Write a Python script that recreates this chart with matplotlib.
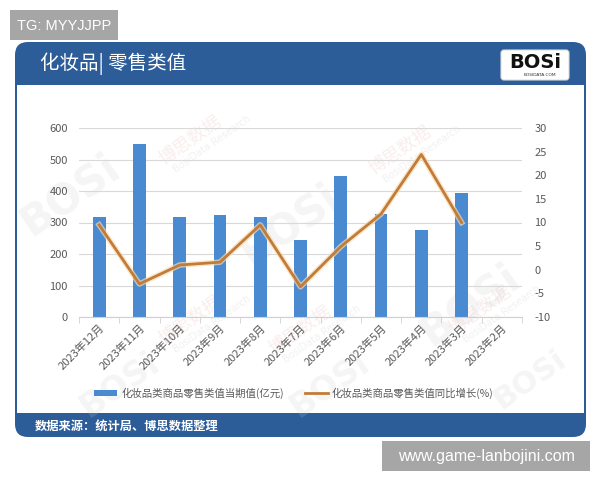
import matplotlib
matplotlib.use("Agg")
import matplotlib.pyplot as plt
import numpy as np
from matplotlib.patches import FancyBboxPatch, Rectangle, Patch
from matplotlib.lines import Line2D
import matplotlib.patheffects as pe

plt.rcParams['font.family'] = ['Noto Sans CJK SC', 'DejaVu Sans']
plt.rcParams['axes.unicode_minus'] = False

categories = ["2023年12月", "2023年11月", "2023年10月", "2023年9月", "2023年8月", "2023年7月",
              "2023年6月", "2023年5月", "2023年4月", "2023年3月", "2023年2月"]
retail_value = [318, 548, 316, 323, 318, 245, 448, 327, 275, 393, np.nan]
yoy_growth = [9.5, -3.0, 1.0, 1.6, 9.5, -3.6, 4.9, 11.8, 24.4, 10.0, np.nan]
left_ticks = [0, 100, 200, 300, 400, 500, 600]
right_ticks = [-10, -5, 0, 5, 10, 15, 20, 25, 30]
bar_label = "化妆品类商品零售类值当期值(亿元)"
line_label = "化妆品类商品零售类值同比增长(%)"
title = "化妆品| 零售类值"
source = "数据来源：统计局、博思数据整理"

W, H = 600, 480
fig = plt.figure(figsize=(6, 4.8), dpi=100)
fig.patch.set_facecolor("white")

# background canvas in pixel coords
bg = fig.add_axes([0, 0, 1, 1], zorder=0)
bg.set_xlim(0, W)
bg.set_ylim(H, 0)
bg.axis("off")

blue = "#2c5d98"
card = FancyBboxPatch((15, 42), 571, 395, boxstyle="round,pad=0,rounding_size=13",
                      facecolor=blue, edgecolor="none")
bg.add_patch(card)
content = Rectangle((17, 85), 567, 328, facecolor="white", edgecolor="none")
bg.add_patch(content)

# faint watermarks
for (x, y, fs) in [(70, 195, 30), (290, 225, 30), (470, 305, 30), (120, 385, 24),
                   (330, 385, 24), (530, 380, 22)]:
    bg.text(x, y, "BOSi", color="#c8c8c8", alpha=0.18, fontsize=fs, fontweight="heavy",
            rotation=35, ha="center", va="center", family="DejaVu Sans")
for (x, y) in [(190, 140), (400, 150), (300, 330), (480, 310), (190, 320)]:
    bg.text(x, y, "博思数据", color="#e8a8a8", alpha=0.2, fontsize=13, rotation=35,
            ha="center", va="center")
    bg.text(x + 22, y + 4, "BosiData Research", color="#c8c8c8", alpha=0.25, fontsize=7,
            rotation=35, ha="center", va="center", family="DejaVu Sans")

bg.text(40, 64, title, color="white", fontsize=14, va="center", ha="left")
bg.text(35, 426, source, color="white", fontsize=8.8, va="center", ha="left", fontweight="bold")

# logo
bg.add_patch(FancyBboxPatch((501, 50), 68, 30, boxstyle="round,pad=0,rounding_size=3",
                            facecolor="white", edgecolor="#dddddd", lw=0.8))
bg.text(535, 62, "BOSi", color="#111111", fontsize=14, fontweight="heavy", ha="center",
        va="center", family="DejaVu Sans")
bg.text(540, 75.5, "BOSIDATA.COM", color="#333333", fontsize=3.2, ha="center", va="center",
        family="DejaVu Sans")

# overlay boxes
bg.add_patch(Rectangle((10, 10), 108, 30, facecolor="#a6a6a6", edgecolor="none"))
bg.text(64, 25.5, "TG: MYYJJPP", color="white", fontsize=10.5, ha="center", va="center",
        family="Liberation Sans")
bg.add_patch(Rectangle((382, 441), 208, 30, facecolor="#a6a6a6", edgecolor="none"))
bg.text(486, 456.5, "www.game-lanbojini.com", color="white", fontsize=11.5, ha="center",
        va="center", family="Liberation Sans")

# main chart
ax = fig.add_axes([79 / W, 1 - 317 / H, (522 - 79) / W, (317 - 128) / H], zorder=2)
ax.patch.set_alpha(0)
x = np.arange(len(categories))
ax.bar(x, retail_value, width=0.32, color="#4a8ad0", zorder=2)
ax.set_xlim(-0.5, len(categories) - 0.5)
ax.set_ylim(0, 600)
ax.set_yticks(left_ticks)
ax.grid(axis="y", color="#d9d9d9", lw=0.8, zorder=0)
for s in ["top", "right", "left"]:
    ax.spines[s].set_visible(False)
ax.spines["bottom"].set_color("#d0d0d0")
ax.tick_params(axis="y", length=0, labelsize=8, labelcolor="#595959", pad=8)
ax.set_xticks(x)
ax.set_xticklabels(categories, rotation=45, ha="right", rotation_mode="anchor",
                   fontsize=8, color="#595959")
ax.tick_params(axis="x", length=0, pad=4)
ax.set_xticks(np.arange(-0.5, len(categories) + 0.5, 1), minor=True)
ax.tick_params(axis="x", which="minor", length=4, color="#d0d0d0")

ax2 = ax.twinx()
ax2.set_zorder(3)
ax2.plot(x, yoy_growth, color="#c27b38", lw=2.0, zorder=3,
         path_effects=[pe.Stroke(linewidth=4.0, foreground="#f7dcb0", alpha=0.7), pe.Normal()])
ax2.set_ylim(-10, 30)
ax2.set_yticks(right_ticks)
for s in ["top", "right", "left", "bottom"]:
    ax2.spines[s].set_visible(False)
ax2.tick_params(axis="y", length=0, labelsize=8, labelcolor="#595959", pad=9)

handles = [Patch(facecolor="#4a8ad0", edgecolor="none"),
           Line2D([0], [0], color="#c27b38", lw=2)]
fig.legend(handles, [bar_label, line_label], loc="center", bbox_to_anchor=(0.49, 1 - 393 / H),
           ncol=2, frameon=False, fontsize=7.5, labelcolor="#595959", handlelength=2.2,
           handleheight=0.5, columnspacing=2.0, handletextpad=0.4)

fig.savefig("out.png", dpi=100, facecolor="white")
